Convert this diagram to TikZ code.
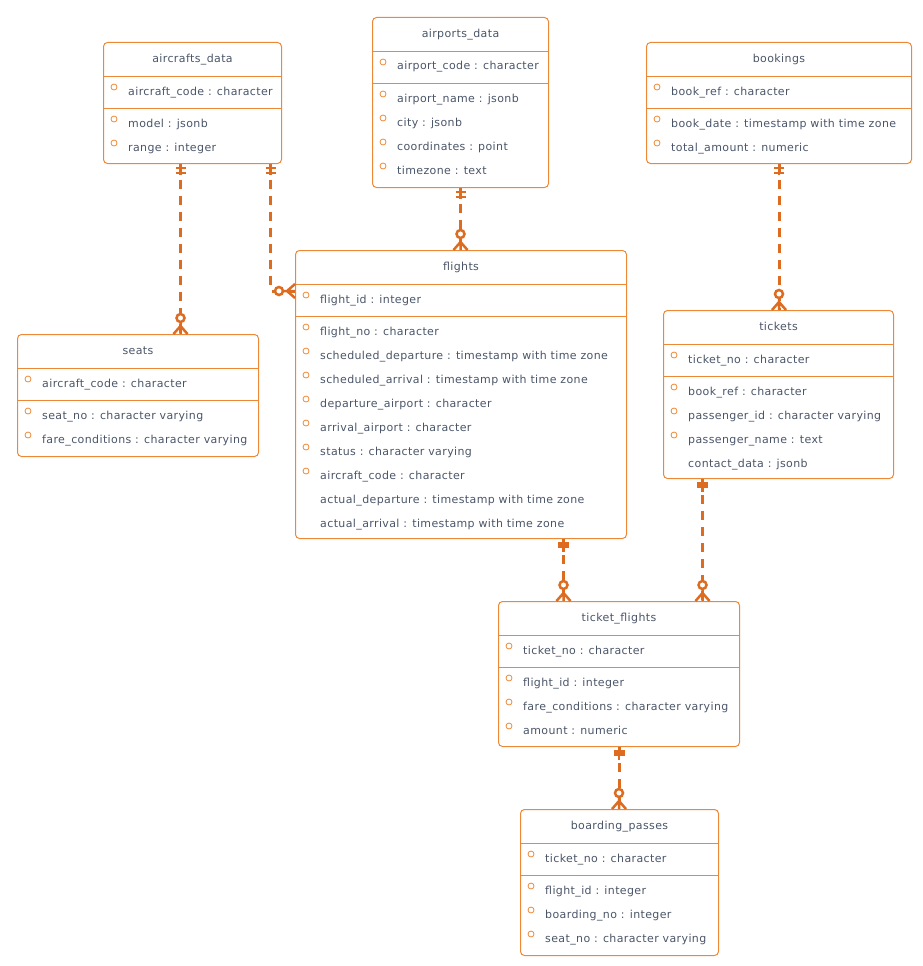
\documentclass[tikz,border=0pt]{standalone}
\usepackage{fontspec}
\setmainfont[LetterSpace=3.5]{DejaVu Sans}
\usetikzlibrary{positioning}

\definecolor{erline}{HTML}{ED8936}
\definecolor{erlink}{HTML}{DD6B20}
\definecolor{ertext}{HTML}{4A5568}

\tikzset{
  table/.style={draw=erline, line width=1pt, rounded corners=4pt, anchor=north west, inner sep=0pt},
  tabletitle/.style={text=ertext, anchor=base, inner sep=0pt, font=\fontsize{11}{13}\selectfont},
  field/.style={text=ertext, anchor=base west, inner sep=0pt, font=\fontsize{11}{13}\selectfont},
  nullmark/.style={draw=erline, line width=0.8pt},
  link/.style={draw=erlink, line width=3pt, dash pattern=on 9pt off 7pt},
  pics/zeromany/.style={code={
    \draw[erlink, line width=2.5pt] (-7,0) -- (0,-8) -- (7,0) (0,0) -- (0,-12);
    \draw[erlink, line width=2.5pt, fill=white] (0,-16) circle (4pt);
  }},
  pics/twobars/.style={code={
    \draw[erlink, line width=2.5pt] (0,0) -- (0,11) (-5,4) -- (5,4) (-5,9) -- (5,9);
  }},
  pics/onebar/.style={code={
    \draw[erlink, line width=2.5pt] (0,0) -- (0,13);
    \fill[erlink] (-5.5,3) rectangle (5.5,9);
  }}
}

% name, corner, width, height, title, key, fields (flag/text)
\newcommand{\ertable}[7]{%
  \node[table, minimum width=#3pt, minimum height=#4pt] (#1) at (#2) {};
  \node[tabletitle] (#1-title) at ([yshift=-20.5pt]#1.north) {#5};
  \draw[erline] ([yshift=-34pt]#1.north west) -- ([yshift=-34pt]#1.north east);
  \draw[erline] ([yshift=-66pt]#1.north west) -- ([yshift=-66pt]#1.north east);
  \node[field] (#1-key) at ([xshift=25pt,yshift=-53pt]#1.north west) {#6};
  \draw[nullmark] ([xshift=11pt,yshift=-45pt]#1.north west) circle (3pt);
  \foreach \c/\f [count=\i, evaluate=\i as \yy using 61+24*\i,
                  evaluate=\i as \yc using 53+24*\i] in {#7} {
    \node[field] (#1-\i) at ([xshift=25pt,yshift=-\yy pt]#1.north west) {\f};
    \ifnum\c=1 \draw[nullmark] ([xshift=11pt,yshift=-\yc pt]#1.north west) circle (3pt);\fi
  }%
}

\begin{document}
\begin{tikzpicture}[x=1pt, y=-1pt]
  \useasboundingbox (0,0) rectangle (923,966);

  \ertable{aircrafts}{103,42}{178}{121}{aircrafts\_data}{aircraft\_code : character}
    {1/model : jsonb, 1/range : integer}
  \ertable{airports}{372,17}{176}{170}{airports\_data}{airport\_code : character}
    {1/airport\_name : jsonb, 1/city : jsonb, 1/coordinates : point, 1/timezone : text}
  \ertable{bookings}{646,42}{265}{121}{bookings}{book\_ref : character}
    {1/book\_date : timestamp with time zone, 1/total\_amount : numeric}
  \ertable{seats}{17,334}{241}{122}{seats}{aircraft\_code : character}
    {1/seat\_no : character varying, 1/fare\_conditions : character varying}
  \ertable{flights}{295,250}{331}{288}{flights}{flight\_id : integer}
    {1/flight\_no : character,
     1/scheduled\_departure : timestamp with time zone,
     1/scheduled\_arrival : timestamp with time zone,
     1/departure\_airport : character,
     1/arrival\_airport : character,
     1/status : character varying,
     1/aircraft\_code : character,
     0/actual\_departure : timestamp with time zone,
     0/actual\_arrival : timestamp with time zone}
  \ertable{tickets}{663,310}{230}{168}{tickets}{ticket\_no : character}
    {1/book\_ref : character, 1/passenger\_id : character varying,
     1/passenger\_name : text, 0/contact\_data : jsonb}
  \ertable{tfl}{498,601}{241}{145}{ticket\_flights}{ticket\_no : character}
    {1/flight\_id : integer, 1/fare\_conditions : character varying, 1/amount : numeric}
  \ertable{bpass}{520,809}{198}{146}{boarding\_passes}{ticket\_no : character}
    {1/flight\_id : integer, 1/boarding\_no : integer, 1/seat\_no : character varying}

  % link ends
  \coordinate (ac-seat) at ([xshift=-12pt]aircrafts.south);
  \coordinate (ac-flight) at ([xshift=78pt]aircrafts.south);
  \coordinate (fl-ac) at ([yshift=-41pt]flights.north west);
  \coordinate (fl-tfl) at ([xshift=102.5pt]flights.south);
  \coordinate (tk-tfl) at ([xshift=-76pt]tickets.south);

  \draw[link] (ac-seat) -- (ac-seat |- seats.north);
  \draw[link] (ac-flight) |- (fl-ac);
  \draw[link] (airports.south) -- (airports.south |- flights.north);
  \draw[link] (bookings.south) -- (bookings.south |- tickets.north);
  \draw[link] (fl-tfl) -- (fl-tfl |- tfl.north);
  \draw[link] (tk-tfl) -- (tk-tfl |- tfl.north);
  \draw[link] (tfl.south) -- (tfl.south |- bpass.north);

  \pic at (ac-seat) {twobars};
  \pic at (ac-flight) {twobars};
  \pic at (airports.south) {twobars};
  \pic at (bookings.south) {twobars};
  \pic at (fl-tfl) {onebar};
  \pic at (tk-tfl) {onebar};
  \pic at (tfl.south) {onebar};

  \pic at (ac-seat |- seats.north) {zeromany};
  \pic[rotate=90] at (fl-ac) {zeromany};
  \pic at (airports.south |- flights.north) {zeromany};
  \pic at (bookings.south |- tickets.north) {zeromany};
  \pic at (fl-tfl |- tfl.north) {zeromany};
  \pic at (tk-tfl |- tfl.north) {zeromany};
  \pic at (tfl.south |- bpass.north) {zeromany};
\end{tikzpicture}
\end{document}
